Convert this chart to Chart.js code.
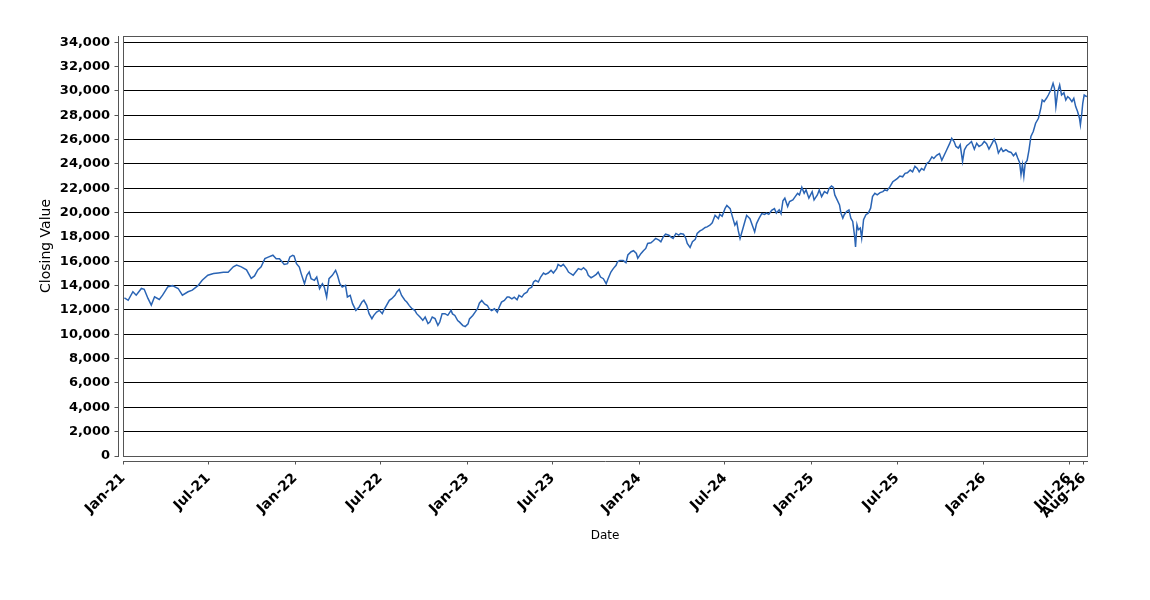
<!DOCTYPE html>
<html lang="en">
<head>
  <meta charset="UTF-8" />
  <title>Closing Value</title>
  <script src="https://cdn.jsdelivr.net/npm/chart.js"></script>
  <style>
    html, body { margin: 0; padding: 0; background: #fff; }
    canvas { display: block; }
  </style>
</head>
<body>
  <canvas id="chart" width="1150" height="600"></canvas>

  <script>
    // one line per month, dates and closes line up
    const dates = [
      '2021-01-04','2021-01-12','2021-01-22','2021-01-29',
      '2021-02-09','2021-02-15','2021-02-23',
      '2021-03-02','2021-03-09','2021-03-19','2021-03-26',
      '2021-04-06','2021-04-16','2021-04-28',
      '2021-05-07','2021-05-19','2021-05-28',
      '2021-06-09','2021-06-18','2021-06-30',
      '2021-07-12','2021-07-22',
      '2021-08-02','2021-08-12','2021-08-23','2021-08-30',
      '2021-09-09','2021-09-20','2021-09-30',
      '2021-10-07','2021-10-14','2021-10-21','2021-10-29',
      '2021-11-05','2021-11-15','2021-11-22','2021-11-29',
      '2021-12-09','2021-12-16','2021-12-21','2021-12-27','2021-12-30',
      '2022-01-04','2022-01-10','2022-01-14','2022-01-21','2022-01-26','2022-01-31',
      '2022-02-04','2022-02-11','2022-02-16','2022-02-22','2022-02-28',
      '2022-03-04','2022-03-09','2022-03-14','2022-03-21','2022-03-28',
      '2022-04-01','2022-04-06','2022-04-11','2022-04-18','2022-04-22','2022-04-28',
      '2022-05-03','2022-05-10','2022-05-17','2022-05-23','2022-05-27',
      '2022-06-02','2022-06-07','2022-06-13','2022-06-17','2022-06-23','2022-06-29',
      '2022-07-05','2022-07-08','2022-07-14','2022-07-20','2022-07-25',
      '2022-08-01','2022-08-05','2022-08-10','2022-08-15','2022-08-22','2022-08-26','2022-08-31',
      '2022-09-06','2022-09-12','2022-09-16','2022-09-23','2022-09-29',
      '2022-10-04','2022-10-10','2022-10-14','2022-10-19','2022-10-25','2022-10-31',
      '2022-11-04','2022-11-09','2022-11-15','2022-11-21','2022-11-28',
      '2022-12-01','2022-12-06','2022-12-12','2022-12-16','2022-12-23','2022-12-28',
      '2023-01-03','2023-01-06','2023-01-13','2023-01-18','2023-01-23','2023-01-27',
      '2023-02-01','2023-02-07','2023-02-13','2023-02-17','2023-02-22','2023-02-28',
      '2023-03-06','2023-03-10','2023-03-15','2023-03-21','2023-03-27','2023-03-31',
      '2023-04-06','2023-04-11','2023-04-17','2023-04-21','2023-04-27',
      '2023-05-02','2023-05-08','2023-05-12','2023-05-18','2023-05-22','2023-05-26',
      '2023-06-01','2023-06-06','2023-06-12','2023-06-16','2023-06-22','2023-06-28',
      '2023-07-03','2023-07-10','2023-07-13','2023-07-19','2023-07-24','2023-07-31',
      '2023-08-04','2023-08-09','2023-08-14','2023-08-21','2023-08-25','2023-08-31',
      '2023-09-05','2023-09-11','2023-09-15','2023-09-21','2023-09-26',
      '2023-10-02','2023-10-06','2023-10-11','2023-10-17','2023-10-23','2023-10-27',
      '2023-11-02','2023-11-07','2023-11-13','2023-11-16','2023-11-21','2023-11-28',
      '2023-12-04','2023-12-08','2023-12-15','2023-12-20','2023-12-26','2023-12-29',
      '2024-01-05','2024-01-10','2024-01-15','2024-01-19','2024-01-26','2024-01-31',
      '2024-02-05','2024-02-12','2024-02-16','2024-02-21','2024-02-26',
      '2024-03-04','2024-03-08','2024-03-13','2024-03-19','2024-03-25','2024-03-29',
      '2024-04-04','2024-04-09','2024-04-12','2024-04-18','2024-04-23','2024-04-29',
      '2024-05-03','2024-05-09','2024-05-14','2024-05-20','2024-05-24','2024-05-30',
      '2024-06-04','2024-06-10','2024-06-17','2024-06-20','2024-06-25',
      '2024-07-01','2024-07-05','2024-07-12','2024-07-16','2024-07-22','2024-07-26','2024-07-29',
      '2024-08-02','2024-08-07','2024-08-13','2024-08-16','2024-08-23','2024-08-28',
      '2024-09-02','2024-09-06','2024-09-11','2024-09-17','2024-09-23','2024-09-27',
      '2024-10-02','2024-10-08','2024-10-14','2024-10-18','2024-10-24','2024-10-28',
      '2024-11-01','2024-11-05','2024-11-11','2024-11-15','2024-11-22','2024-11-27',
      '2024-12-02','2024-12-06','2024-12-11','2024-12-16','2024-12-20','2024-12-26',
      '2025-01-02','2025-01-06','2025-01-13','2025-01-17','2025-01-22','2025-01-28',
      '2025-02-03','2025-02-07','2025-02-12','2025-02-16','2025-02-19','2025-02-24',
      '2025-03-01','2025-03-04','2025-03-08','2025-03-11','2025-03-16','2025-03-21','2025-03-25','2025-03-29',
      '2025-04-02','2025-04-04','2025-04-07','2025-04-10','2025-04-14','2025-04-17','2025-04-21','2025-04-26',
      '2025-05-01','2025-05-06','2025-05-10','2025-05-15','2025-05-20','2025-05-26',
      '2025-06-01','2025-06-05','2025-06-10','2025-06-16','2025-06-22','2025-06-27',
      '2025-07-02','2025-07-07','2025-07-13','2025-07-18','2025-07-23','2025-07-29',
      '2025-08-03','2025-08-08','2025-08-13','2025-08-17','2025-08-22','2025-08-27',
      '2025-09-02','2025-09-07','2025-09-13','2025-09-17','2025-09-23','2025-09-29',
      '2025-10-04','2025-10-09','2025-10-14','2025-10-21','2025-10-25','2025-10-30',
      '2025-11-03','2025-11-08','2025-11-12','2025-11-17','2025-11-21','2025-11-26',
      '2025-12-01','2025-12-06','2025-12-12','2025-12-17','2025-12-22','2025-12-28',
      '2026-01-02','2026-01-07','2026-01-12','2026-01-18','2026-01-23','2026-01-28',
      '2026-02-01','2026-02-07','2026-02-11','2026-02-17','2026-02-22','2026-02-28',
      '2026-03-05','2026-03-10','2026-03-14','2026-03-18','2026-03-21','2026-03-24','2026-03-27','2026-03-30',
      '2026-04-03','2026-04-07','2026-04-11','2026-04-16','2026-04-21','2026-04-27',
      '2026-05-02','2026-05-05','2026-05-09','2026-05-14','2026-05-18','2026-05-24','2026-05-28','2026-05-31',
      '2026-06-03','2026-06-07','2026-06-11','2026-06-15','2026-06-20','2026-06-24','2026-06-28',
      '2026-07-02','2026-07-07','2026-07-11','2026-07-15','2026-07-19','2026-07-23','2026-07-25','2026-07-28','2026-07-30',
      '2026-08-02','2026-08-05','2026-08-08'
    ];

    const closes = [
      13000, 12800, 13500, 13220,
      13770, 13700, 12950,
      12400, 13090, 12870, 13220,
      13900, 14000, 13770,
      13220, 13500, 13630,
      14000, 14450, 14860,
      15000, 15050,
      15100, 15100, 15550, 15700,
      15550, 15300, 14600,
      14800, 15300, 15550, 16220,
      16350, 16500, 16220, 16220,
      15750, 15810, 16360, 16490, 16440,
      15810, 15530, 14990, 14160, 14850, 15120,
      14580, 14440, 14710, 13750, 14160,
      13890, 13070, 14580, 14850, 15260,
      14850, 14160, 13890, 14030, 13070, 13200,
      12520, 11970, 12250, 12660, 12800,
      12380, 11700, 11290, 11560, 11830, 11970,
      11700, 11970, 12380, 12800, 12930,
      13200, 13480, 13700, 13200, 12800, 12660, 12380,
      12110, 11970, 11700, 11420, 11150,
      11420, 10880, 11010, 11420, 11290, 10740,
      11010, 11700, 11700, 11560, 11970,
      11680, 11550, 11130, 11000, 10720, 10640,
      10860, 11270, 11550, 11820, 12100, 12560,
      12780, 12500, 12370, 12100, 11960, 12100,
      11820, 12230, 12650, 12780, 13060, 13060,
      12920, 13060, 12840, 13200, 13060,
      13330, 13470, 13750, 13880, 14300, 14430,
      14300, 14710, 15040, 14930, 15040, 15260,
      15040, 15400, 15750, 15590, 15750, 15400,
      15120, 14980, 14850, 15200, 15400, 15310,
      15480, 15260, 14850, 14650, 14760,
      14930, 15120, 14710, 14570, 14160, 14570,
      15120, 15400, 15670, 15970, 16060, 16060,
      15890, 16520, 16790, 16870, 16650, 16250,
      16650, 16870, 17060, 17470, 17530, 17690,
      17880, 17740, 17610, 18010, 18230,
      18150, 18010, 17880, 18290, 18150, 18290,
      18230, 17880, 17470, 17140, 17610, 17800,
      18290, 18500, 18610, 18780, 18830, 18970,
      19160, 19780, 19510, 19860, 19700,
      20330, 20600, 20330, 19780, 18970, 19240, 18560,
      17880, 18560, 19370, 19780, 19510, 18970,
      18420, 19100, 19510, 19920, 19860, 19970,
      19860, 20190, 20330, 19970, 20240, 19920,
      20980, 21190, 20510, 20910, 21050, 21320,
      21590, 21460, 22080, 21590, 21870, 21190,
      21730, 21050, 21460, 21870, 21320, 21730,
      21590, 22000, 22190, 22080, 21460, 21050,
      20640, 19960, 19550, 19830, 20100, 20230, 19550, 19280,
      18060, 17190, 19010, 18600, 18740, 17920, 19420, 19830,
      19960, 20370, 21320, 21590, 21460, 21650,
      21730, 21870, 21810, 22140, 22540, 22680,
      22820, 23010, 22950, 23230, 23280, 23500,
      23360, 23820, 23630, 23360, 23630, 23500,
      24040, 24180, 24590, 24450, 24720, 24860,
      24310, 24720, 25130, 25710, 26120, 25850,
      25440, 25300, 25580, 24210, 25170, 25500,
      25660, 25850, 25220, 25710, 25440, 25580,
      25850, 25660, 25220, 25660, 26040, 25580,
      24900, 25300, 25030, 25170, 25030, 24950,
      24680, 24900, 24490, 24130, 23120, 23940, 22980, 24080,
      24290, 25170, 26260, 26670, 27350, 27760,
      28580, 29260, 29130, 29400, 29670, 30140, 30630, 30220,
      28720, 29950, 30490, 29670, 29860, 29260, 29540,
      29400, 29130, 29400, 28720, 28310, 27760, 27220, 28170, 28990,
      29670, 29590, 29540
    ];

    const tickDates = ['2021-01-01', '2021-07-01', '2022-01-01', '2022-07-01', '2023-01-01', '2023-07-01',
      '2024-01-01', '2024-07-01', '2025-01-01', '2025-07-01', '2026-01-01', '2026-07-01', '2026-08-01'];
    const tickLabels = ['Jan-21', 'Jul-21', 'Jan-22', 'Jul-22', 'Jan-23', 'Jul-23',
      'Jan-24', 'Jul-24', 'Jan-25', 'Jul-25', 'Jan-26', 'Jul-26', 'Aug-26'];

    const yTicks = [0, 2000, 4000, 6000, 8000, 10000, 12000, 14000, 16000,
      18000, 20000, 22000, 24000, 26000, 28000, 30000, 32000, 34000];
    const yMax = 34520;

    const dayOf = (s) => (Date.parse(s) - Date.parse('2021-01-01')) / 86400000;
    const points = dates.map((d, i) => ({ x: dayOf(d), y: closes[i] }));
    const tickDays = tickDates.map(dayOf);

    const family = "'DejaVu Sans', sans-serif";
    const crisp = (p) => Math.round(p - 0.5) + 0.5;

    // plot frame and the detached axis lines
    const frame = {
      id: 'frame',
      afterDatasetsDraw(chart) {
        const { ctx, chartArea: a, scales } = chart;
        ctx.save();
        ctx.lineWidth = 1;
        ctx.strokeStyle = '#555';
        ctx.strokeRect(crisp(a.left), crisp(a.top), Math.round(a.right - a.left), Math.round(a.bottom - a.top));

        ctx.beginPath();
        const ax = crisp(a.left - 5);
        ctx.moveTo(ax, a.top);
        ctx.lineTo(ax, a.bottom + 1);
        yTicks.forEach(v => {
          const y = crisp(scales.y.getPixelForValue(v));
          ctx.moveTo(ax - 4, y);
          ctx.lineTo(ax, y);
        });
        const ay = crisp(a.bottom + 5);
        ctx.moveTo(a.left, ay);
        ctx.lineTo(a.right + 1, ay);
        tickDays.forEach(d => {
          const x = crisp(scales.x.getPixelForValue(d));
          ctx.moveTo(x, ay);
          ctx.lineTo(x, ay + 3);
        });
        ctx.stroke();
        ctx.restore();
      }
    };

    new Chart(document.getElementById('chart'), {
      type: 'line',
      data: {
        datasets: [{
          label: 'Closing Value',
          data: points,
          borderColor: '#2a64b4',
          borderWidth: 1.5,
          pointRadius: 0,
          tension: 0,
        }],
      },
      options: {
        responsive: false,
        animation: false,
        layout: { padding: { top: 36, right: 63, left: 0, bottom: 0 } },
        plugins: {
          legend: { display: false },
          tooltip: { enabled: false },
        },
        scales: {
          x: {
            type: 'linear',
            min: 0,
            max: dayOf(dates[dates.length - 1]),
            grid: { display: false },
            border: { display: false },
            afterBuildTicks: (s) => { s.ticks = tickDays.map(v => ({ value: v })); },
            afterFit: (s) => { s.height = 144; },
            ticks: {
              autoSkip: false,
              minRotation: 45,
              maxRotation: 45,
              padding: 6,
              color: '#000',
              font: { family, size: 14, weight: 'bold' },
              callback: (v, i) => tickLabels[i],
            },
            title: {
              display: true,
              text: 'Date',
              color: '#000',
              font: { family, size: 12 },
              padding: { top: 0, bottom: 57 },
            },
          },
          y: {
            min: 0,
            max: yMax,
            grid: { color: '#000', lineWidth: 1, drawTicks: false },
            border: { display: false },
            afterBuildTicks: (s) => { s.ticks = yTicks.map(v => ({ value: v })); },
            afterFit: (s) => { s.width = 123; },
            ticks: {
              padding: 13,
              color: '#000',
              font: { family, size: 13, weight: 'bold' },
              callback: (v) => v.toLocaleString('en-US'),
            },
            title: {
              display: true,
              text: 'Closing Value',
              color: '#000',
              font: { family, size: 14 },
              padding: { top: 38, bottom: 0 },
            },
          },
        },
      },
      plugins: [frame],
    });
  </script>
</body>
</html>
